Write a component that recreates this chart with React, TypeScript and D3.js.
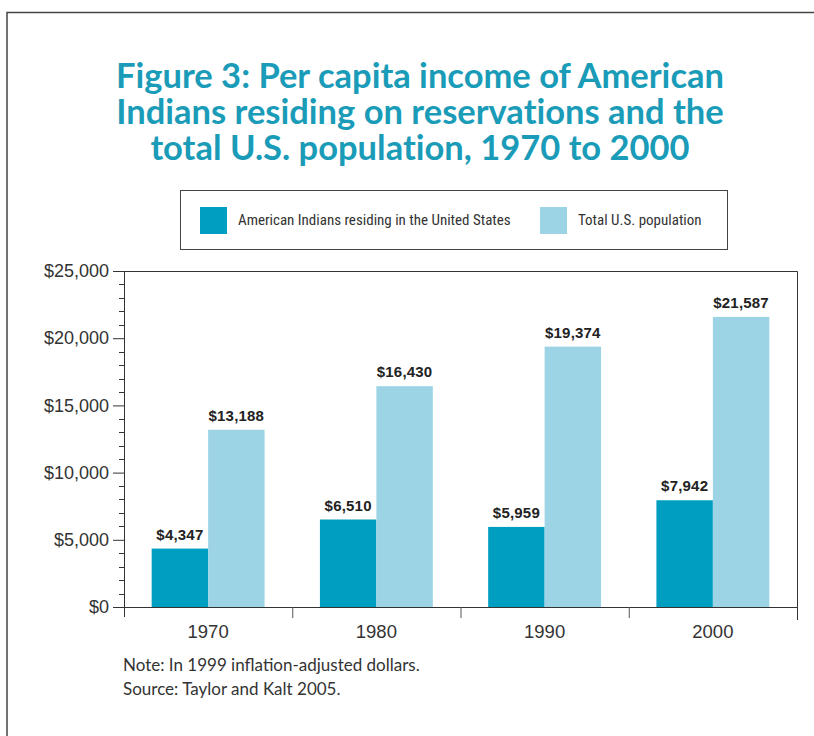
import { useEffect, useRef } from 'react'
import * as d3 from 'd3'

const years = ['1970', '1980', '1990', '2000']
const seriesNames = ['American Indians residing in the United States', 'Total U.S. population']
const indianIncome = [4347, 6510, 5959, 7942]
const totalIncome = [13188, 16430, 19374, 21587]
const yTicks = [0, 5000, 10000, 15000, 20000, 25000]
const titleLines = [
  'Figure 3: Per capita income of American',
  'Indians residing on reservations and the',
  'total U.S. population, 1970 to 2000',
]
const noteLines = ['Note: In 1999 inflation-adjusted dollars.', 'Source: Taylor and Kalt 2005.']

const colors = ['#009fc2', '#9dd4e5']
const narrow = '"Roboto Condensed", "Liberation Sans Narrow", "Arial Narrow", sans-serif'
const sans = '"Liberation Sans", Arial, sans-serif'

export default function App() {
  const ref = useRef<SVGSVGElement | null>(null)

  useEffect(() => {
    if (!ref.current) return
    const width = 814
    const height = 736
    const svg = d3.select(ref.current)
    svg.selectAll('*').remove()

    const margin = { top: 271, right: 17, bottom: 129, left: 124 }
    const innerWidth = width - margin.left - margin.right
    const innerHeight = height - margin.top - margin.bottom

    // outer page frame
    svg.append('path')
      .attr('d', `M7,${height} V12.5 H${width}`)
      .attr('fill', 'none')
      .attr('stroke', '#444')
      .attr('stroke-width', 1.5)

    // title
    svg.append('g')
      .selectAll('text')
      .data(titleLines)
      .join('text')
      .attr('x', 420)
      .attr('y', (_, i) => 88 + i * 36)
      .attr('text-anchor', 'middle')
      .attr('fill', '#1a9cb8')
      .style('font-family', 'Lato, "Open Sans", sans-serif')
      .style('font-weight', 700)
      .style('font-size', '34.5px')
      .style('font-variant-ligatures', 'none')
      .text((d) => d)

    // legend
    const legend = svg.append('g')
    legend.append('rect')
      .attr('x', 180.5).attr('y', 190.5).attr('width', 547).attr('height', 59)
      .attr('fill', 'none').attr('stroke', '#444').attr('stroke-width', 1)
    const legendX = [200, 540]
    seriesNames.forEach((name, i) => {
      legend.append('rect')
        .attr('x', legendX[i]).attr('y', 207).attr('width', 27).attr('height', 27)
        .attr('fill', colors[i])
      legend.append('text')
        .attr('x', legendX[i] + 38).attr('y', 225)
        .attr('fill', '#333')
        .style('font-family', narrow)
        .style('font-size', '15px')
        .text(name)
    })

    const x0 = d3.scaleBand().domain(years).range([0, innerWidth]).padding(0)
    const x1 = d3.scaleBand().domain(['a', 'b']).range([0, x0.bandwidth()]).paddingInner(0).paddingOuter(0.49)
    const y = d3.scaleLinear().domain([0, 25000]).range([innerHeight, 0])

    const root = svg.append('g').attr('transform', `translate(${margin.left},${margin.top})`)

    // bars
    const groups = root.append('g')
      .selectAll('g')
      .data(years)
      .join('g')
      .attr('transform', (d) => `translate(${x0(d)},0)`)

    const series = [indianIncome, totalIncome]
    series.forEach((vals, si) => {
      const key = si === 0 ? 'a' : 'b'
      groups.append('rect')
        .attr('x', x1(key) ?? 0)
        .attr('y', (_, i) => y(vals[i]))
        .attr('width', x1.bandwidth())
        .attr('height', (_, i) => innerHeight - y(vals[i]))
        .attr('fill', colors[si])
      groups.append('text')
        .attr('x', (x1(key) ?? 0) + x1.bandwidth() / 2)
        .attr('y', (_, i) => y(vals[i]) - 9)
        .attr('text-anchor', 'middle')
        .attr('fill', '#222')
        .style('font-family', sans)
        .style('font-weight', 700)
        .style('font-size', '15px')
        .style('letter-spacing', '0.2px')
        .text((_, i) => d3.format('$,')(vals[i]))
    })

    // frame: top and right
    root.append('path')
      .attr('d', `M-11,0.5 H${innerWidth + 0.5} V${innerHeight + 13}`)
      .attr('fill', 'none').attr('stroke', '#333').attr('stroke-width', 1)

    // y axis
    const yAxis = root.append('g')
      .call(d3.axisLeft(y).tickValues(yTicks).tickSize(11).tickFormat((d) => d3.format('$,')(d as number)))
    yAxis.select('.domain').remove()
    yAxis.selectAll('line').attr('stroke', '#333')
    yAxis.selectAll('text')
      .attr('fill', '#333')
      .attr('x', -15)
      .style('font-family', sans)
      .style('font-size', '18px')

    // minor ticks
    root.append('g')
      .selectAll('line')
      .data(d3.range(1000, 25000, 1000).filter((v) => v % 5000 !== 0))
      .join('line')
      .attr('x1', -5).attr('x2', 0)
      .attr('y1', (d) => Math.round(y(d)) + 0.5).attr('y2', (d) => Math.round(y(d)) + 0.5)
      .attr('stroke', '#333')

    root.append('line')
      .attr('x1', 0.5).attr('x2', 0.5).attr('y1', 0).attr('y2', innerHeight + 10)
      .attr('stroke', '#333')

    // x axis
    const xAxis = root.append('g')
      .attr('transform', `translate(0,${innerHeight})`)
      .call(d3.axisBottom(x0).tickSize(0).tickPadding(18))
    xAxis.select('.domain').attr('stroke', '#333').attr('d', `M-11,0.5H${innerWidth}`)
    xAxis.selectAll('text')
      .attr('fill', '#333')
      .style('font-family', sans)
      .style('font-size', '18.5px')
    root.append('g')
      .selectAll('line')
      .data(years.slice(1))
      .join('line')
      .attr('x1', (d) => (x0(d) ?? 0) + 0.5).attr('x2', (d) => (x0(d) ?? 0) + 0.5)
      .attr('y1', innerHeight).attr('y2', innerHeight + 11)
      .attr('stroke', '#555')

    // notes
    svg.append('g')
      .selectAll('text')
      .data(noteLines)
      .join('text')
      .attr('x', 123)
      .attr('y', (_, i) => 671 + i * 24)
      .attr('fill', '#333')
      .style('font-family', 'Lato, "Open Sans", sans-serif')
      .style('font-size', '17px')
      .text((d) => d)
  }, [])

  return (
    <svg
      ref={ref}
      width={814}
      height={736}
      style={{ position: 'fixed', left: 0, top: 0, background: '#fff', display: 'block' }}
    />
  )
}
